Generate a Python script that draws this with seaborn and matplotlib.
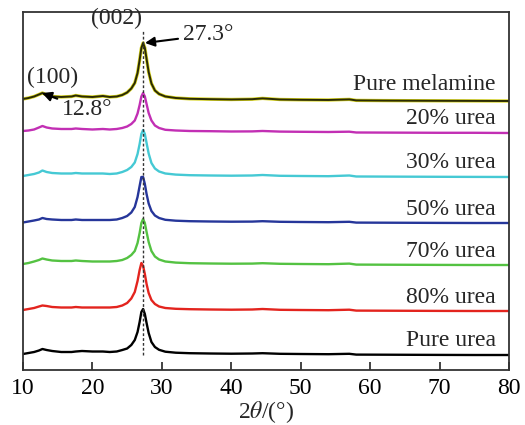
import numpy as np
import pandas as pd
import matplotlib
matplotlib.use("Agg")
import matplotlib.pyplot as plt
import seaborn as sns

# 2-theta sampling positions (degrees)
two_theta = [10.0, 10.8, 11.6, 12.3, 12.8, 13.4, 14.2, 15.5, 17.0, 17.6, 18.5, 20.0,
             21.5, 22.5, 23.5, 24.3, 25.0, 25.6, 26.1, 26.5, 26.8, 27.05, 27.3, 27.55,
             27.8, 28.1, 28.5, 29.0, 29.6, 30.5, 32.0, 34.0, 37.0, 40.0, 43.0, 44.5,
             47.0, 50.0, 54.0, 57.0, 58.0, 62.0, 66.0, 70.0, 75.0, 80.0]

# relative intensities (a.u.) of each sample
pure_melamine = [2.0, 3.0, 4.5, 6.5, 8.0, 6.0, 4.5, 4.0, 4.5, 5.5, 4.5, 4.0,
                 5.0, 4.0, 4.5, 6.0, 8.5, 12.5, 18.0, 28.0, 41.0, 53.0, 58.0, 53.0,
                 42.0, 29.0, 17.5, 10.5, 7.0, 4.5, 3.0, 2.2, 1.8, 1.5, 1.8, 2.6,
                 1.5, 1.2, 1.0, 1.6, 0.6, 0.4, 0.3, 0.2, 0.1, 0.0]
urea_20 = [2.0, 2.5, 3.5, 5.5, 7.0, 5.5, 4.5, 4.0, 4.0, 4.5, 4.0, 3.5,
           4.0, 3.5, 4.0, 5.0, 6.5, 9.0, 12.5, 19.5, 28.0, 36.5, 40.0, 36.5,
           29.0, 20.0, 12.5, 7.5, 5.0, 3.2, 2.5, 2.0, 1.8, 1.5, 1.6, 2.0,
           1.4, 1.2, 1.0, 1.3, 0.5, 0.4, 0.3, 0.2, 0.2, 0.0]
urea_30 = [1.0, 2.0, 3.0, 4.5, 6.5, 5.0, 4.0, 3.5, 3.5, 4.0, 3.5, 3.5,
           3.5, 3.0, 3.5, 5.0, 7.0, 10.0, 14.5, 23.0, 33.0, 43.0, 47.0, 43.0,
           34.0, 23.5, 14.0, 8.5, 5.5, 3.5, 2.4, 1.8, 1.5, 1.3, 1.5, 2.0,
           1.2, 1.0, 0.8, 1.5, 0.5, 0.4, 0.3, 0.2, 0.1, 0.0]
urea_50 = [0.5, 1.5, 2.5, 3.5, 5.0, 4.0, 3.5, 3.0, 3.0, 3.5, 3.0, 3.0,
           3.0, 3.0, 3.5, 5.0, 7.0, 10.5, 16.0, 26.0, 37.0, 46.0, 46.0, 39.0,
           29.0, 19.5, 12.0, 7.5, 5.0, 3.2, 2.3, 1.8, 1.5, 1.3, 1.4, 1.8,
           1.2, 1.0, 0.8, 1.2, 0.4, 0.3, 0.2, 0.1, 0.0, 0.0]
urea_70 = [1.0, 2.0, 3.5, 5.0, 6.5, 5.5, 4.5, 4.0, 4.0, 4.5, 4.0, 3.5,
           3.5, 3.5, 4.0, 5.0, 7.0, 10.0, 14.0, 22.0, 32.0, 42.0, 46.0, 42.0,
           33.0, 23.0, 14.0, 8.5, 5.5, 3.5, 2.4, 1.8, 1.5, 1.3, 1.4, 1.8,
           1.2, 1.0, 0.8, 1.4, 0.4, 0.3, 0.2, 0.1, 0.0, 0.0]
urea_80 = [1.0, 2.0, 3.0, 4.5, 5.5, 5.0, 4.0, 3.5, 3.5, 4.0, 3.5, 3.5,
           3.5, 3.5, 4.0, 5.5, 8.0, 12.5, 19.0, 30.0, 41.0, 48.0, 45.0, 37.0,
           27.0, 18.0, 11.0, 7.0, 4.5, 3.0, 2.2, 1.8, 1.5, 1.3, 1.5, 2.0,
           1.2, 1.0, 0.8, 1.3, 0.4, 0.3, 0.2, 0.1, 0.0, 0.0]
pure_urea = [1.0, 2.0, 3.0, 4.5, 6.0, 5.0, 4.0, 3.0, 3.0, 3.5, 4.0, 3.5,
             3.5, 3.0, 3.5, 5.0, 6.5, 10.0, 15.0, 23.0, 33.0, 43.0, 46.0, 41.0,
             32.0, 22.0, 13.0, 8.0, 5.2, 3.3, 2.3, 1.8, 1.5, 1.3, 1.5, 1.8,
             1.2, 1.0, 0.8, 1.2, 0.4, 0.3, 0.2, 0.1, 0.0, 0.0]

sample_names = ["Pure melamine", "20% urea", "30% urea", "50% urea",
                "70% urea", "80% urea", "Pure urea"]
series = [pure_melamine, urea_20, urea_30, urea_50, urea_70, urea_80, pure_urea]

# vertical stacking of the patterns
offsets = [269, 237, 193, 147, 105, 59, 15]
label_y = [285, 251, 207, 160, 118, 73, 30]
colors = ["#2a2a05", "#c22fb4", "#45c9d4", "#26369a", "#54c242", "#e3241e", "#000000"]

FS = 17

sns.set_theme(style="ticks")
plt.rcParams["font.family"] = ["Liberation Serif", "DejaVu Serif"]
plt.rcParams["mathtext.fontset"] = "stix"

fig = plt.figure(figsize=(5.25, 4.25), dpi=100)
ax = fig.add_axes([0.0438, 0.1294, 0.9257, 0.8424])

frames = []
for name, vals, off in zip(sample_names, series, offsets):
    frames.append(pd.DataFrame({"two_theta": two_theta,
                                "y": np.asarray(vals) + off,
                                "sample": name}))
data = pd.concat(frames, ignore_index=True)

for name, col in zip(sample_names, colors):
    sub = data[data["sample"] == name]
    if name == "Pure melamine":
        sns.lineplot(data=sub, x="two_theta", y="y", color="#d6d21a",
                     linewidth=2.4, ax=ax, sort=False)
    sns.lineplot(data=sub, x="two_theta", y="y", color=col,
                 linewidth=1.4 if name == "Pure melamine" else 1.7,
                 ax=ax, sort=False)

for name, ly in zip(sample_names, label_y):
    ax.text(78.1, ly, name, ha="right", va="center", fontsize=FS)

# reference line at the (002) reflection
ax.plot([27.3, 27.3], [15, 340], color="#333333", lw=1.0,
        linestyle=(0, (2, 1.5)))

ax.text(23.5, 352, "(002)", ha="center", va="center", fontsize=FS)
ax.annotate("27.3°", xy=(27.57, 327), xytext=(33.0, 335),
            ha="left", va="center", fontsize=FS,
            arrowprops=dict(arrowstyle="-|>", color="black", lw=1.5,
                            mutation_scale=14, shrinkA=1, shrinkB=0))
ax.text(14.3, 293, "(100)", ha="center", va="center", fontsize=FS)
ax.annotate("12.8°", xy=(12.74, 277), xytext=(15.6, 260),
            ha="left", va="center", fontsize=FS,
            arrowprops=dict(arrowstyle="-|>", color="black", lw=1.5,
                            mutation_scale=14, shrinkA=1, shrinkB=0))

ax.set_xlim(10, 80)
ax.set_ylim(0, 358)
ax.set_xticks([10, 20, 30, 40, 50, 60, 70, 80])
ax.set_yticks([])
ax.tick_params(axis="x", direction="in", length=6, width=1.2,
               labelsize=FS, pad=6, colors="#222222", labelcolor="black")
ax.set_xlabel(r"2$\mathit{\theta}$/(°)", fontsize=FS, labelpad=0)
ax.set_ylabel("")
for sp in ax.spines.values():
    sp.set_visible(True)
    sp.set_linewidth(1.3)
    sp.set_color("#333333")

fig.savefig("out.png", dpi=100)
